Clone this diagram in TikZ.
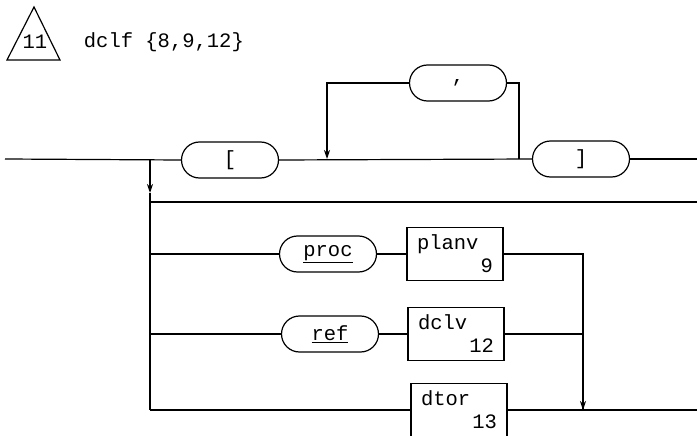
\documentclass[tikz,border=0pt]{standalone}
\usepackage{fontspec}
\setmonofont{Liberation Mono}
\usetikzlibrary{arrows.meta, positioning, calc}

\begin{document}
\begin{tikzpicture}[x=1pt, y=-1pt, line width=1.2pt,
  every node/.style={font=\ttfamily\fontsize{20.5}{23}\selectfont},
  term/.style={draw, rectangle, rounded corners=18pt, minimum width=97pt, minimum height=36pt, inner sep=0pt},
  nonterm/.style={draw, rectangle, minimum width=96pt, minimum height=53pt, text width=76pt, align=left, inner sep=0pt},
  down/.style={-{Stealth[length=9pt, width=6pt]}}]
\useasboundingbox (0,0) rectangle (697,436);

% header
\draw (7,60) -- (34,7) -- (60,60) -- cycle;
\node (num) at (35,42) {11};
\node[anchor=west] (title) at (80,42) {dclf \{8,9,12\}};

% terminals and boxes
\node[term] (lbr) at (230,160) {[};
\node[term] (comma) at (458,83) {,};
\node[term] (rbr) at (581,159) {]};
\node[term] (proc) at (328,254) {\underline{proc}};
\node[term] (ref) at (330,334) {\underline{ref}};
\node[nonterm] (planv) at (455,254) {planv\\\hspace*{\fill}9};
\node[nonterm] (dclv) at (456,334) {dclv\\\hspace*{\fill}12};
\node[nonterm] (dtor) at (459,410) {dtor\\\hspace*{\fill}13};

% junction points
\coordinate (in) at (5,159);
\coordinate (out) at (697,159);
\coordinate (br) at (150,159);
\coordinate (brarr) at (150,193);
\coordinate (skip) at (150,202);
\coordinate (skipout) at (697,202);
\coordinate (jproc) at (150,254);
\coordinate (jref) at (150,334);
\coordinate (jdtor) at (150,410);
\coordinate (loopin) at (327,159);
\coordinate (loopout) at (519,159);
\coordinate (merge) at (583,410);
\coordinate (end) at (697,410);

% main line with list loop
\draw (in) -- (lbr.west);
\draw (lbr.east) -- (rbr.west);
\draw (rbr.east) -- (out);
\draw (loopout) |- (comma.east);
\draw[down] (comma.west) -| (loopin);

% alternatives
\draw[down] (br) -- (brarr);
\draw (brarr) -- (jdtor);
\draw (skip) -- (skipout);
\draw (jproc) -- (proc.west);
\draw (proc.east) -- (planv.west);
\draw (jref) -- (ref.west);
\draw (ref.east) -- (dclv.west);
\draw (jdtor) -- (dtor.west);
\draw (dclv.east) -| (merge);
\draw[down] (planv.east) -| (merge);
\draw (dtor.east) -- (end);
\end{tikzpicture}
\end{document}
